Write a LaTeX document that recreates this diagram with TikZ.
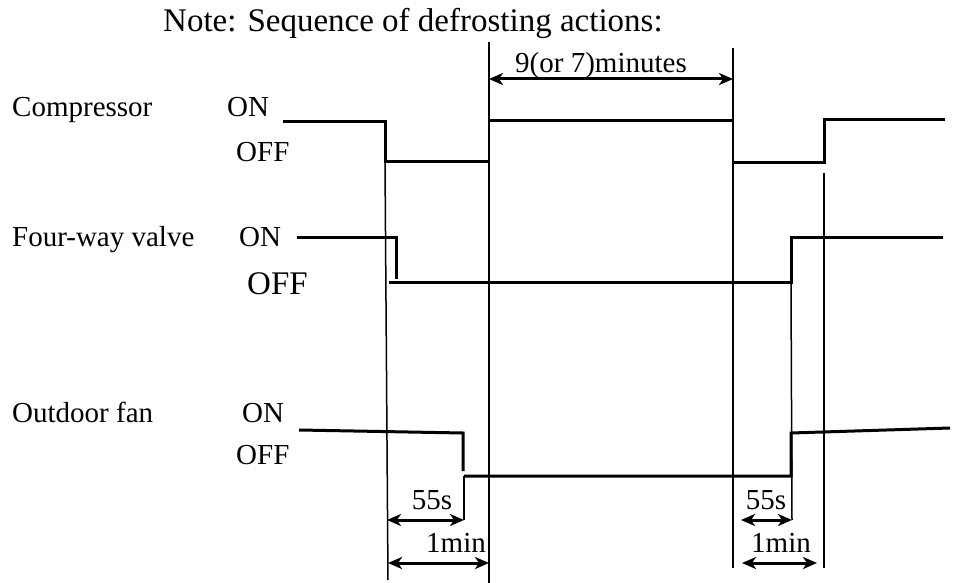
\documentclass[tikz,border=0pt]{standalone}
\usepackage{fontspec}
\setmainfont{Liberation Serif}
\usetikzlibrary{arrows.meta}

\begin{document}
\begin{tikzpicture}[x=1pt, y=-1pt,
  lbl/.style={anchor=base west, inner sep=0pt, font=\fontsize{29}{31}\selectfont},
  dim/.style={anchor=base, inner sep=0pt, font=\fontsize{29}{31}\selectfont},
  sig/.style={line width=3pt, line join=miter},
  guide/.style={line width=1.5pt},
  span/.style={{Stealth[length=14pt,width=12pt,inset=4pt]}-{Stealth[length=14pt,width=12pt,inset=4pt]},
               line width=3pt}
]
  \useasboundingbox (0,0) rectangle (962,583);

  \node[lbl, font=\fontsize{33}{35}\selectfont] (title) at (163,32)
    {Note: Sequence of defrosting actions:};

  % signal names and states
  \node[lbl] (comp)  at (12,117) {Compressor};
  \node[lbl] (valve) at (12,247) {Four-way valve};
  \node[lbl] (fan)   at (12,422) {Outdoor fan};

  \node[lbl] (compon)   at (227,117) {ON};
  \node[lbl] (compoff)  at (236,162) {OFF};
  \node[lbl] (valveon)  at (239,247) {ON};
  \node[lbl, font=\fontsize{33}{35}\selectfont] (valveoff) at (247,294) {OFF};
  \node[lbl] (fanon)    at (242,422) {ON};
  \node[lbl] (fanoff)   at (236,464) {OFF};

  % time marks
  \draw[guide] (385,162) -- (388,580);
  \draw[guide] (489,42)  -- (489,583);
  \draw[guide] (733,48)  -- (733,568);
  \draw[guide] (824,173) -- (824,568);
  \draw[guide] (464,476) -- (464,520);
  \draw[guide] (791,282) -- (792,520);

  % signals
  \draw[sig] (283,122) -- (385,122) -- (385,162) -- (489,162);
  \draw[sig] (489,121) -- (733,121);
  \draw[sig] (733,163) -- (824,163) -- (824,120) -- (945,120);

  \draw[sig] (297,237) -- (396,237) -- (396,279);
  \draw[sig] (389,282) -- (791,282) -- (791,237) -- (943,237);

  \draw[sig] (299,430) -- (463,433) -- (463,471);
  \draw[sig] (464,476) -- (791,476) -- (791,433) -- (950,428);

  % durations
  \coordinate (m1) at (489,79);  \coordinate (m2) at (733,79);
  \coordinate (a1) at (387,520); \coordinate (a2) at (464,520);
  \coordinate (b1) at (388,563); \coordinate (b2) at (489,563);
  \coordinate (c1) at (741,520); \coordinate (c2) at (792,520);
  \coordinate (d1) at (742,563); \coordinate (d2) at (817,563);

  \draw[span] (m1) -- (m2);
  \draw[span] (a1) -- (a2);
  \draw[span] (b1) -- (b2);
  \draw[span] (c1) -- (c2);
  \draw[span] (d1) -- (d2);

  \node[dim] (defrost) at (601,73)  {9(or 7)minutes};
  \node[dim] (lshort)  at (432,509) {55s};
  \node[dim] (llong)   at (456,552) {1min};
  \node[dim] (rshort)  at (766,509) {55s};
  \node[dim] (rlong)   at (781,552) {1min};
\end{tikzpicture}
\end{document}
